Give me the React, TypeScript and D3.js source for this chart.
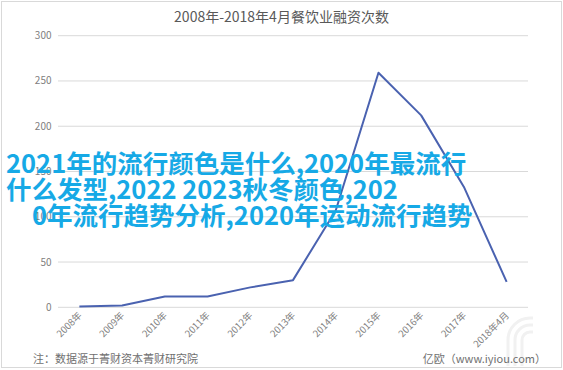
import React from "react";
import * as d3 from "d3";

const categories = ["2008年", "2009年", "2010年", "2011年", "2012年", "2013年", "2014年", "2015年", "2016年", "2017年", "2018年4月"];
const values = [1, 2, 12, 12, 22, 30, 107, 259, 212, 133, 28];
const yTicks = [0, 50, 100, 150, 200, 250, 300];
const title = "2008年-2018年4月餐饮业融资次数";
const note = "注：数据源于菁财资本菁财研究院";
const source = "亿欧（www.iyiou.com）";
const overlayLines = [
  "2021年的流行颜色是什么,2020年最流行",
  "什么发型,2022 2023秋冬颜色,202",
  "0年流行趋势分析,2020年运动流行趋势",
];

const W = 563;
const H = 370;
const font = "'Noto Sans CJK SC', 'Noto Sans', sans-serif";

export default function App() {
  const x = d3.scaleBand<string>().domain(categories).range([58, 528]);
  const y = d3.scaleLinear().domain([0, 300]).range([307.3, 35.7]);
  const line = d3
    .line<number>()
    .x((_, i) => (x(categories[i]) as number) + x.bandwidth() / 2)
    .y((d) => y(d));

  const overlayX = [6, 6, 32];
  const overlayY = [173, 199, 225];
  const arcs = [8, 15, 22];

  return (
    <div style={{ position: "fixed", left: 0, top: 0 }}>
      <svg width={W} height={H} style={{ display: "block", fontFamily: font }}>
        <rect x={0} y={0} width={W} height={H} fill="#ffffff" />
        <rect x={1.5} y={1.5} width={560} height={366} fill="none" stroke="#d9d9d9" strokeWidth={1} />
        {/* faint watermark */}
        <g fill="none" stroke="#f1f1f1" strokeWidth={3}>
          {arcs.map((r, i) => (
            <path key={i} d={`M ${530 - r} 366 L ${530 - r} ${340} A ${r} ${r} 0 0 1 ${530} ${340 - r} L 533 ${340 - r}`} />
          ))}
        </g>
        <text x={281.5} y={22} textAnchor="middle" fontSize={14} fill="#595959">
          {title}
        </text>
        {yTicks.map((t) => (
          <g key={t}>
            <line x1={58} x2={528} y1={y(t)} y2={y(t)} stroke="#d9d9d9" strokeWidth={1} />
            <text x={51.5} y={y(t)} dy="0.35em" textAnchor="end" fontSize={10} fill="#808080">
              {t}
            </text>
          </g>
        ))}
        {categories.map((c) => {
          const cx = (x(c) as number) + x.bandwidth() / 2 + 3;
          const cy = 316;
          return (
            <text
              key={c}
              x={cx}
              y={cy}
              textAnchor="end"
              fontSize={9.5}
              fill="#808080"
              transform={`rotate(-45 ${cx} ${cy})`}
            >
              {c}
            </text>
          );
        })}
        <path d={line(values) || ""} fill="none" stroke="#4a62b0" strokeWidth={2} strokeLinejoin="round" />
        <text x={33} y={363} fontSize={11} fill="#707070">
          {note}
        </text>
        <text x={546} y={363} textAnchor="end" fontSize={11} fill="#707070">
          {source}
        </text>
        {overlayLines.map((t, i) => (
          <text key={i} x={overlayX[i]} y={overlayY[i]} fontSize={25.5} fontWeight={700} fill="#16a9e6">
            {t}
          </text>
        ))}
      </svg>
    </div>
  );
}
